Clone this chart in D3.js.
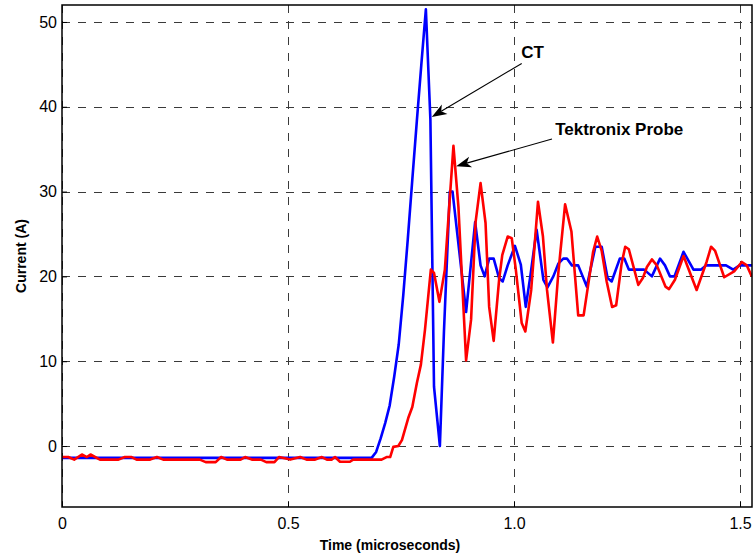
<!DOCTYPE html>
<html>
<head>
<meta charset="utf-8">
<script src="https://cdn.jsdelivr.net/npm/d3@7"></script>
<style>
  body { margin: 0; background: #fff; }
  svg text { font-family: "Liberation Sans", Arial, sans-serif; fill: #000; }
</style>
</head>
<body>
<div id="chart"></div>
<script>
// CT (blue) trace, time in microseconds / current in amps
const ctTime = [0, 0.685, 0.695, 0.705, 0.715, 0.725, 0.735, 0.745, 0.755, 0.765, 0.775, 0.785, 0.795, 0.805, 0.815, 0.823, 0.836, 0.845, 0.858, 0.864,
  0.894, 0.914, 0.926, 0.935, 0.945, 0.955, 0.967, 0.975, 0.986, 1.002, 1.015, 1.026, 1.036, 1.050, 1.065, 1.074, 1.087, 1.098, 1.109, 1.117,
  1.128, 1.142, 1.161, 1.180, 1.194, 1.207, 1.216, 1.234, 1.244, 1.254, 1.288, 1.305, 1.323, 1.334, 1.345, 1.355, 1.375, 1.397, 1.414, 1.425,
  1.469, 1.485, 1.499, 1.527];
const ctCurrent = [-1.4, -1.4, -0.7, 0.9, 2.7, 4.8, 8.2, 12.0, 17.8, 24.4, 31.4, 38.3, 45.0, 51.5, 38.5, 7.0, 0.0, 13.5, 30.0, 30.0,
  15.8, 26.4, 21.3, 20.0, 22.1, 22.1, 19.8, 19.4, 21.3, 23.6, 21.4, 16.4, 20.0, 25.5, 19.6, 18.7, 20.0, 21.5, 22.1, 22.1,
  21.3, 21.3, 18.8, 23.5, 23.5, 19.8, 19.4, 22.1, 22.1, 20.8, 20.8, 20.0, 22.1, 21.3, 20.0, 20.0, 22.9, 20.8, 20.8, 21.3,
  21.3, 20.8, 21.3, 21.3];

// Tektronix probe (red) trace
const probeTime = [0, 0.014, 0.027, 0.044, 0.055, 0.063, 0.084, 0.125, 0.139, 0.154, 0.165, 0.195, 0.210, 0.224, 0.305, 0.318, 0.340, 0.352, 0.365, 0.395,
  0.405, 0.420, 0.440, 0.452, 0.470, 0.480, 0.505, 0.527, 0.541, 0.560, 0.575, 0.586, 0.597, 0.604, 0.615, 0.637, 0.644, 0.707, 0.718, 0.726,
  0.733, 0.744, 0.752, 0.766, 0.775, 0.785, 0.794, 0.803, 0.816, 0.823, 0.835, 0.847, 0.866, 0.877, 0.894, 0.905, 0.915, 0.926, 0.937, 0.945,
  0.955, 0.967, 0.974, 0.986, 0.995, 1.004, 1.017, 1.025, 1.038, 1.053, 1.064, 1.073, 1.086, 1.098, 1.113, 1.127, 1.142, 1.154, 1.175, 1.184,
  1.194, 1.205, 1.217, 1.226, 1.238, 1.246, 1.254, 1.275, 1.285, 1.294, 1.305, 1.316, 1.335, 1.343, 1.356, 1.375, 1.404, 1.426, 1.436, 1.445,
  1.465, 1.487, 1.504, 1.515, 1.526];
const probeCurrent = [-1.3, -1.3, -1.6, -1.0, -1.3, -1.0, -1.6, -1.6, -1.3, -1.3, -1.6, -1.6, -1.3, -1.6, -1.6, -1.9, -1.9, -1.3, -1.6, -1.6,
  -1.3, -1.6, -1.6, -1.9, -1.9, -1.3, -1.6, -1.3, -1.6, -1.6, -1.3, -1.6, -1.6, -1.3, -1.85, -1.85, -1.6, -1.6, -1.3, -1.3,
  -0.1, 0.0, 0.7, 3.3, 4.6, 7.4, 9.6, 13.7, 20.8, 20.4, 17.0, 20.8, 35.4, 28.2, 10.1, 14.9, 26.4, 31.0, 26.3, 16.4,
  12.4, 19.6, 22.5, 24.7, 24.5, 20.8, 14.5, 13.5, 18.4, 28.8, 24.7, 18.4, 12.2, 20.4, 28.5, 25.3, 15.4, 15.4, 22.9, 24.7,
  23.0, 19.4, 16.4, 16.6, 21.5, 23.5, 23.2, 19.0, 19.8, 21.1, 22.0, 21.3, 18.8, 18.5, 19.6, 22.4, 18.4, 21.7, 23.5, 23.0,
  19.9, 20.6, 21.7, 21.3, 20.0];

const xTicks = [0, 0.5, 1.0, 1.5];
const xTickLabels = ['0', '0.5', '1.0', '1.5'];
const yTicks = [0, 10, 20, 30, 40, 50];
const xDomain = [0, 1.5265];
const yDomain = [-7.19, 52.0];

// annotations: [text, textX, textY, arrowFromX, arrowFromY, arrowToX, arrowToY] in data units
const annotations = [
  ['CT', 1.016, 45.75, 1.017, 45.1, 0.818, 38.8],
  ['Tektronix Probe', 1.091, 36.7, 1.084, 36.2, 0.872, 33.0]
];

const width = 755, height = 558;
const margin = {left: 62, top: 5, right: 3, bottom: 51};
const plotW = width - margin.left - margin.right;
const plotH = height - margin.top - margin.bottom;

const svg = d3.select('#chart').append('svg')
  .attr('width', width)
  .attr('height', height);

const x = d3.scaleLinear().domain(xDomain).range([margin.left, margin.left + plotW]);
const y = d3.scaleLinear().domain(yDomain).range([margin.top + plotH, margin.top]);

svg.append('defs').append('clipPath')
  .attr('id', 'plotClip')
  .append('rect')
  .attr('x', margin.left).attr('y', margin.top)
  .attr('width', plotW).attr('height', plotH);

// grid
const grid = svg.append('g').attr('class', 'grid');
grid.selectAll('line.vgrid').data(xTicks).enter().append('line')
  .attr('class', 'vgrid')
  .attr('x1', d => Math.round(x(d)) + 0.5).attr('x2', d => Math.round(x(d)) + 0.5)
  .attr('y1', margin.top).attr('y2', margin.top + plotH);
grid.selectAll('line.hgrid').data(yTicks).enter().append('line')
  .attr('class', 'hgrid')
  .attr('y1', d => Math.round(y(d)) + 0.5).attr('y2', d => Math.round(y(d)) + 0.5)
  .attr('x1', margin.left).attr('x2', margin.left + plotW);
grid.selectAll('line')
  .attr('stroke', '#3a3a3a')
  .attr('stroke-width', 1)
  .attr('stroke-dasharray', '8,8');

// axes (ticks pointing inward)
const xAxis = d3.axisBottom(x).tickValues(xTicks).tickFormat((d, i) => xTickLabels[i]).tickSize(-5).tickPadding(11);
const yAxis = d3.axisLeft(y).tickValues(yTicks).tickSize(-5).tickPadding(5);
const xg = svg.append('g').attr('class', 'axis')
  .attr('transform', 'translate(0,' + (margin.top + plotH) + ')')
  .call(xAxis);
const yg = svg.append('g').attr('class', 'axis')
  .attr('transform', 'translate(' + margin.left + ',0)')
  .call(yAxis);
svg.selectAll('.axis .domain').remove();
svg.selectAll('.axis text').attr('font-size', 16).attr('fill', '#000');
svg.selectAll('.axis line').attr('stroke', '#000');

// traces
const line = d3.line().x(d => x(d[0])).y(d => y(d[1]));
const traces = svg.append('g').attr('clip-path', 'url(#plotClip)');
traces.append('path')
  .datum(d3.zip(ctTime, ctCurrent))
  .attr('d', line)
  .attr('fill', 'none')
  .attr('stroke', '#0000ff')
  .attr('stroke-width', 2.6)
  .attr('stroke-linejoin', 'round');
traces.append('path')
  .datum(d3.zip(probeTime, probeCurrent))
  .attr('d', line)
  .attr('fill', 'none')
  .attr('stroke', '#ff0000')
  .attr('stroke-width', 2.6)
  .attr('stroke-linejoin', 'round');

// box
svg.append('rect')
  .attr('x', margin.left).attr('y', margin.top)
  .attr('width', plotW).attr('height', plotH)
  .attr('fill', 'none')
  .attr('stroke', '#000')
  .attr('stroke-width', 1.5);

// annotations with arrows
const notes = svg.append('g').attr('class', 'notes');
annotations.forEach(a => {
  const x0 = x(a[3]), y0 = y(a[4]), x1 = x(a[5]), y1 = y(a[6]);
  const len = Math.hypot(x1 - x0, y1 - y0);
  const ux = (x1 - x0) / len, uy = (y1 - y0) / len;
  const nx = -uy, ny = ux;
  const L = 15, W = 5.5, notch = 4;
  notes.append('line')
    .attr('x1', x0).attr('y1', y0)
    .attr('x2', x1 - ux * (L - notch)).attr('y2', y1 - uy * (L - notch))
    .attr('stroke', '#000').attr('stroke-width', 1.1);
  const head = [
    [x1, y1],
    [x1 - ux * L + nx * W, y1 - uy * L + ny * W],
    [x1 - ux * (L - notch), y1 - uy * (L - notch)],
    [x1 - ux * L - nx * W, y1 - uy * L - ny * W]
  ];
  notes.append('path')
    .attr('d', 'M' + head.map(p => p.join(',')).join('L') + 'Z')
    .attr('fill', '#000');
  notes.append('text')
    .attr('x', x(a[1])).attr('y', y(a[2]))
    .attr('font-size', 17)
    .attr('font-weight', 'bold')
    .text(a[0]);
});

// axis titles
svg.append('text')
  .attr('x', 390).attr('y', 550)
  .attr('text-anchor', 'middle')
  .attr('font-size', 14)
  .attr('font-weight', 'bold')
  .text('Time (microseconds)');
svg.append('text')
  .attr('transform', 'translate(26,' + (margin.top + plotH / 2) + ') rotate(-90)')
  .attr('text-anchor', 'middle')
  .attr('font-size', 14)
  .attr('font-weight', 'bold')
  .text('Current (A)');
</script>
</body>
</html>
